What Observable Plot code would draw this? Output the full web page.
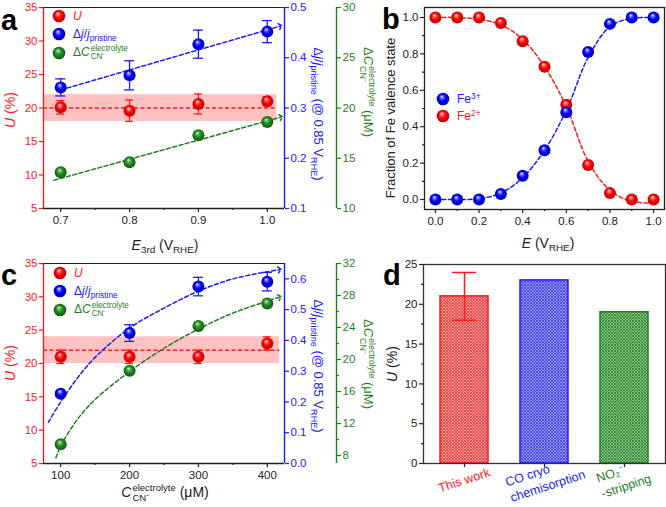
<!DOCTYPE html>
<html><head><meta charset="utf-8">
<script src="https://cdn.jsdelivr.net/npm/d3@7"></script>
<script src="https://cdn.jsdelivr.net/npm/@observablehq/plot@0.6"></script>
<style>
html,body{margin:0;padding:0;background:#fff;}
#root{position:relative;width:666px;height:507px;overflow:hidden;font-family:"Liberation Sans",Arial,Helvetica,sans-serif;}
.lbl{position:absolute;white-space:nowrap;line-height:1;transform-origin:center center;}
.lbl i{font-style:italic;}
.sub{font-size:0.7em;vertical-align:-0.3em;line-height:0;}
.sup{font-size:0.7em;vertical-align:0.45em;line-height:0;}
.ss{display:inline-block;vertical-align:middle;font-size:0.68em;line-height:1.02;text-align:left;margin-left:1px;}
.leg{position:absolute;display:flex;align-items:center;white-space:nowrap;font-size:12px;line-height:1;}
.leg svg{margin-right:7px;}
.letter{position:absolute;font-weight:bold;font-size:29px;line-height:1;color:#000;}
</style>
</head><body>
<svg width="0" height="0" style="position:absolute">
<defs>
<radialGradient id="ballR" cx="0.5" cy="0.5" r="0.55" fx="0.4" fy="0.3">
<stop offset="0" stop-color="#ffffff"/><stop offset="0.2" stop-color="#ff7070"/><stop offset="0.5" stop-color="#ff0000"/><stop offset="1" stop-color="#b30000"/></radialGradient>
<radialGradient id="ballB" cx="0.5" cy="0.5" r="0.55" fx="0.4" fy="0.3">
<stop offset="0" stop-color="#ffffff"/><stop offset="0.2" stop-color="#7070ff"/><stop offset="0.5" stop-color="#0000ff"/><stop offset="1" stop-color="#0000a8"/></radialGradient>
<radialGradient id="ballG" cx="0.5" cy="0.5" r="0.55" fx="0.4" fy="0.3">
<stop offset="0" stop-color="#ffffff"/><stop offset="0.2" stop-color="#6cb86c"/><stop offset="0.5" stop-color="#1f8a1f"/><stop offset="1" stop-color="#0b540b"/></radialGradient>
<pattern id="hatchR" width="3" height="3" patternUnits="userSpaceOnUse"><rect width="3" height="3" fill="#f59a9a"/><path d="M0,0L3,3M3,0L0,3" stroke="#e82a2a" stroke-width="0.7"/></pattern>
<pattern id="hatchB" width="3" height="3" patternUnits="userSpaceOnUse"><rect width="3" height="3" fill="#9a9af5"/><path d="M0,0L3,3M3,0L0,3" stroke="#2a2ae8" stroke-width="0.7"/></pattern>
<pattern id="hatchG" width="3" height="3" patternUnits="userSpaceOnUse"><rect width="3" height="3" fill="#8cc48c"/><path d="M0,0L3,3M3,0L0,3" stroke="#1a7a1a" stroke-width="0.7"/></pattern>
</defs>
</svg>
<div id="root"></div>
<script>
// ===================== DATA =====================
// Panel a
const aE = [0.7, 0.8, 0.9, 1.0];
const aU = [20.1, 19.6, 20.6, 21.0];
const aUerr = [1.0, 1.6, 1.5, 0.7];
const aJ = [0.341, 0.365, 0.427, 0.452];
const aJerr = [0.017, 0.029, 0.028, 0.022];
const aDC = [13.6, 14.6, 17.3, 18.6];
const aUmean = 20;
const aUband = [18, 22];
const aBandE = [0.675, 1.014];
const aJfitE = [0.7, 1.019];
const aJfit = [0.336, 0.463];
const aDCfitE = [0.69, 1.02];
const aDCfit = [12.8, 19.1];
const aTicksE = [0.7, 0.8, 0.9, 1.0];
const aTicksU = [5, 10, 15, 20, 25, 30, 35];
const aTicksJ = [0.1, 0.2, 0.3, 0.4, 0.5];
const aTicksDC = [10, 15, 20, 25, 30];

// Panel b
const bE = [0.0, 0.1, 0.2, 0.3, 0.4, 0.5, 0.6, 0.7, 0.8, 0.9, 1.0];
const bFe3 = [0.0, 0.0, 0.0, 0.03, 0.13, 0.27, 0.48, 0.81, 0.965, 1.0, 1.0];
const bFe2 = [1.0, 1.0, 1.0, 0.97, 0.87, 0.73, 0.52, 0.19, 0.035, 0.0, 0.0];
const bFitE = [0.0, 0.1, 0.2, 0.3, 0.4, 0.5, 0.6, 0.7, 0.8, 0.9, 1.0];
const bFit3 = [0.0, 0.0, 0.005, 0.035, 0.12, 0.27, 0.49, 0.78, 0.95, 0.995, 1.0];
const bFit2 = [1.0, 1.0, 0.99, 0.96, 0.88, 0.73, 0.51, 0.21, 0.05, -0.01, -0.02];
const bTicksE = [0.0, 0.2, 0.4, 0.6, 0.8, 1.0];
const bTicksY = [0.0, 0.2, 0.4, 0.6, 0.8, 1.0];

// Panel c
const cC = [100, 200, 300, 400];
const cU = [21, 21, 21, 23];
const cUerr = [1, 1, 1, 1];
const cJ = [0.227, 0.424, 0.575, 0.591];
const cJerr = [0.008, 0.027, 0.03, 0.03];
const cDC = [9.4, 18.6, 24.2, 27.0];
const cUmean = 22;
const cUband = [20, 24];
const cBandC = [75, 418];
const cJfitC = [82, 100, 125, 150, 200, 250, 300, 350, 418];
const cJfit = [0.134, 0.2, 0.28, 0.345, 0.44, 0.505, 0.56, 0.6, 0.63];
const cDCfitC = [93, 100, 125, 150, 200, 250, 300, 350, 418];
const cDCfit = [7.7, 9.2, 12.6, 15.0, 18.5, 21.4, 23.8, 25.8, 27.8];
const cTicksC = [100, 200, 300, 400];
const cTicksU = [5, 10, 15, 20, 25, 30, 35];
const cTicksJ = [0.0, 0.1, 0.2, 0.3, 0.4, 0.5, 0.6];
const cTicksDC = [8, 12, 16, 20, 24, 28, 32];

// Panel d
const dCats = ["This work", "CO cryo\nchemisorption", "NO\u2082\u207B\n-stripping"];
const dU = [21, 23, 19];
const dErr = [3, 0, 0];
const dTicksU = [0, 5, 10, 15, 20, 25];

// ===================== STYLE =====================
const W = 666, H = 507;
const FONT = "Liberation Sans, Arial, Helvetica, sans-serif";
const RED = "#ff1a1a", BLUE = "#1a1aff", GREEN = "#1f7f1f", INK = "#222";
const root = document.getElementById("root");

function layer(fr, opts) {
  const svg = Plot.plot({
    width: W, height: H,
    marginLeft: fr.l, marginRight: W - fr.r, marginTop: fr.t, marginBottom: H - fr.b,
    style: {background: "transparent", fontFamily: FONT, fontSize: "11.5px", color: INK, overflow: "visible"},
    ...opts
  });
  svg.style.position = "absolute"; svg.style.left = "0px"; svg.style.top = "0px";
  root.appendChild(svg);
  return svg;
}
const f1 = d3.format(".1f");
function yAx(anchor, ticks, color, fmt, minor) {
  const m = [Plot.axisY({anchor, ticks, tickSize: 4, tickPadding: 2, tickFormat: fmt, color, label: null, strokeWidth: 1.2})];
  if (minor) m.push(Plot.axisY({anchor, ticks: minor, tickSize: 2, tickFormat: () => "", color, label: null, strokeWidth: 1.2}));
  return m;
}
function xAx(ticks, fmt, minor) {
  const m = [Plot.axisX({anchor: "bottom", ticks, tickSize: 4, tickPadding: 3, tickFormat: fmt, label: null, strokeWidth: 1.2, color: INK})];
  if (minor) m.push(Plot.axisX({anchor: "bottom", ticks: minor, tickSize: 2, tickFormat: () => "", label: null, strokeWidth: 1.2, color: INK}));
  return m;
}
function errMarks(rows, color, cap) {
  return [
    Plot.ruleX(rows, {x: "x", y1: d => d.v - d.err, y2: d => d.v + d.err, stroke: color, strokeWidth: 1.3}),
    Plot.ruleY(rows, {y: d => d.v + d.err, x1: "x", x2: "x", insetLeft: -cap, insetRight: -cap, stroke: color, strokeWidth: 1.3}),
    Plot.ruleY(rows, {y: d => d.v - d.err, x1: "x", x2: "x", insetLeft: -cap, insetRight: -cap, stroke: color, strokeWidth: 1.3})
  ];
}
const zip = (xs, vs, es) => xs.map((x, i) => ({x, v: vs[i], err: es ? es[i] : 0}));
const dash = (xs, vs, color, arrow) => Plot.line(zip(xs, vs), {x: "x", y: "v", stroke: color, strokeWidth: 1.5, strokeDasharray: "4,2.5", curve: "catmull-rom", markerEnd: arrow ? "arrow" : undefined});
const balls = (rows, fill) => Plot.dot(rows, {x: "x", y: "v", r: 6, fill, stroke: "none"});
const minorOf = (t) => t.slice(0, -1).map((v, i) => (v + t[i + 1]) / 2);

// ===================== PANEL A =====================
const fa = {l: 43, r: 284, t: 7, b: 208};
const aX = {domain: [0.675, 1.025]};
layer(fa, {
  x: aX, y: {domain: [5, 35]},
  marks: [
    Plot.rect([0], {x1: () => aBandE[0], x2: () => aBandE[1], y1: () => aUband[0], y2: () => aUband[1], fill: RED, fillOpacity: 0.27}),
    Plot.ruleY([aUmean], {x1: aBandE[0], x2: aBandE[1], stroke: RED, strokeWidth: 1.5, strokeDasharray: "4,2.5"}),
    ...errMarks(zip(aE, aU, aUerr), RED, 4),
    balls(zip(aE, aU), "url(#ballR)"),
    ...xAx(aTicksE, f1, minorOf(aTicksE)),
    ...yAx("left", aTicksU, RED, d3.format("d")),
    Plot.ruleX([0.675], {stroke: RED, strokeWidth: 1.4}),
    Plot.ruleY([5], {stroke: INK, strokeWidth: 1.4}),
    Plot.ruleY([35], {stroke: INK, strokeWidth: 1.2})
  ]
});
layer(fa, {
  x: {...aX, axis: null}, y: {domain: [0.1, 0.5]},
  marks: [
    dash(aJfitE, aJfit, BLUE, true),
    ...errMarks(zip(aE, aJ, aJerr), BLUE, 5),
    balls(zip(aE, aJ), "url(#ballB)"),
    ...yAx("right", aTicksJ, BLUE, f1),
    Plot.ruleX([1.025], {stroke: BLUE, strokeWidth: 1.4})
  ]
});
layer(fa, {
  x: {...aX, axis: null}, y: {domain: [10, 30], axis: null},
  marks: [
    dash(aDCfitE, aDCfit, GREEN, true),
    balls(zip(aE, aDC), "url(#ballG)")
  ]
});
layer({l: 43, r: 336, t: 7, b: 208}, {
  x: {domain: [0, 1], axis: null}, y: {domain: [10, 30]},
  marks: [
    ...yAx("right", aTicksDC, GREEN, d3.format("d")),
    Plot.ruleX([1], {stroke: GREEN, strokeWidth: 1.4})
  ]
});

// ===================== PANEL B =====================
const fb = {l: 424, r: 664, t: 7, b: 209};
layer(fb, {
  x: {domain: [-0.05, 1.05]}, y: {domain: [-0.055, 1.055]},
  marks: [
    Plot.frame({stroke: INK, strokeWidth: 1.3}),
    dash(bFitE, bFit2, RED, false),
    dash(bFitE, bFit3, BLUE, false),
    balls(zip(bE, bFe2), "url(#ballR)"),
    balls(zip(bE, bFe3), "url(#ballB)"),
    ...xAx(bTicksE, f1, minorOf(bTicksE)),
    ...yAx("left", bTicksY, INK, f1, minorOf(bTicksY))
  ]
});

// ===================== PANEL C =====================
const fc = {l: 43, r: 284, t: 263, b: 463};
const cX = {domain: [75, 425]};
layer(fc, {
  x: cX, y: {domain: [5, 35]},
  marks: [
    Plot.rect([0], {x1: () => cBandC[0], x2: () => cBandC[1], y1: () => cUband[0], y2: () => cUband[1], fill: RED, fillOpacity: 0.27}),
    Plot.ruleY([cUmean], {x1: cBandC[0], x2: cBandC[1], stroke: RED, strokeWidth: 1.5, strokeDasharray: "4,2.5"}),
    ...errMarks(zip(cC, cU, cUerr), RED, 4),
    balls(zip(cC, cU), "url(#ballR)"),
    ...xAx(cTicksC, d3.format("d"), minorOf(cTicksC)),
    ...yAx("left", cTicksU, RED, d3.format("d")),
    Plot.ruleX([75], {stroke: RED, strokeWidth: 1.4}),
    Plot.ruleY([5], {stroke: INK, strokeWidth: 1.4}),
    Plot.ruleY([35], {stroke: INK, strokeWidth: 1.2})
  ]
});
layer(fc, {
  x: {...cX, axis: null}, y: {domain: [0, 0.65]},
  marks: [
    dash(cJfitC, cJfit, BLUE, true),
    ...errMarks(zip(cC, cJ, cJerr), BLUE, 5),
    balls(zip(cC, cJ), "url(#ballB)"),
    ...yAx("right", cTicksJ, BLUE, f1),
    Plot.ruleX([425], {stroke: BLUE, strokeWidth: 1.4})
  ]
});
layer(fc, {
  x: {...cX, axis: null}, y: {domain: [7, 32], axis: null},
  marks: [
    dash(cDCfitC, cDCfit, GREEN, true),
    balls(zip(cC, cDC), "url(#ballG)")
  ]
});
layer({l: 43, r: 336, t: 263, b: 463}, {
  x: {domain: [0, 1], axis: null}, y: {domain: [7, 32]},
  marks: [
    ...yAx("right", cTicksDC, GREEN, d3.format("d"), minorOf(cTicksDC)),
    Plot.ruleX([1], {stroke: GREEN, strokeWidth: 1.4})
  ]
});

// ===================== PANEL D =====================
const fd = {l: 423, r: 665, t: 264, b: 463};
const dCols = [RED, BLUE, GREEN];
const dFills = ["url(#hatchR)", "url(#hatchB)", "url(#hatchG)"];
const dRows = dCats.map((c, i) => ({cat: c, v: dU[i], err: dErr[i], col: dCols[i], fill: dFills[i]}));
const dOff = [[-28, 18], [-41, 12], [-30, 8]];
const dErrRows = dRows.filter(d => d.err > 0);
layer(fd, {
  x: {domain: dCats, paddingInner: 0.4, paddingOuter: 0.21}, y: {domain: [0, 25]},
  color: {type: "identity"},
  marks: [
    Plot.barY(dRows, {x: "cat", y: "v", fill: "fill", stroke: "col", strokeWidth: 1.5, insetLeft: 0, insetRight: 0}),
    Plot.ruleX(dErrRows, {x: "cat", y1: d => d.v - d.err, y2: d => d.v + d.err, stroke: "col", strokeWidth: 1.5}),
    Plot.ruleY(dErrRows, {y: d => d.v + d.err, x1: "cat", x2: "cat", insetLeft: 12, insetRight: 12, stroke: "col", strokeWidth: 1.5}),
    Plot.ruleY(dErrRows, {y: d => d.v - d.err, x1: "cat", x2: "cat", insetLeft: 12, insetRight: 12, stroke: "col", strokeWidth: 1.5}),
    Plot.frame({stroke: "#333", strokeWidth: 1.3}),
    Plot.axisX({tickSize: 4, tickFormat: () => "", label: null, strokeWidth: 1.2}),
    ...yAx("left", dTicksU, INK, d3.format("d"), minorOf(dTicksU)),
    ...dRows.map((d, i) => Plot.text([d], {x: "cat", text: "cat", frameAnchor: "bottom", textAnchor: "start", lineAnchor: "top", rotate: -18, fill: "col", dx: dOff[i][0], dy: dOff[i][1], fontSize: 12.5, lineHeight: 1.3}))
  ]
});

// ===================== HTML TEXT =====================
function label(html, cx, cy, rot, style) {
  const d = document.createElement("div");
  d.className = "lbl"; d.innerHTML = html;
  d.style.left = cx + "px"; d.style.top = cy + "px";
  d.style.transform = `translate(-50%,-50%) rotate(${rot}deg)`;
  Object.assign(d.style, style || {});
  root.appendChild(d);
}
const DC = '\u0394<i>C</i><span class="ss">electrolyte<br>CN\u207B</span>';
const DJ = '\u0394<i>j</i>/<i>j</i><span class="sub">pristine</span>';
// panel letters
[["a", 1, 6], ["b", 382, 5], ["c", 1, 261], ["d", 383, 261]].forEach(([t, x, y]) => {
  const d = document.createElement("div"); d.className = "letter"; d.textContent = t;
  d.style.left = x + "px"; d.style.top = y + "px"; root.appendChild(d);
});
// panel a labels
label('<i>U</i> (%)', 10, 110, -90, {color: RED, fontSize: "14px"});
label(DJ + ' (@ 0.85 V<span class="sub">RHE</span>)', 318, 114, 90, {color: BLUE, fontSize: "13px"});
label(DC + ' (\u03BCM)', 367, 92, 90, {color: GREEN, fontSize: "13px"});
label('<i>E</i><span class="sub">3rd</span> (V<span class="sub">RHE</span>)', 165, 245, 0, {color: INK, fontSize: "14px"});
// panel b labels
label('Fraction of Fe valence state', 390, 118, -90, {color: INK, fontSize: "13px"});
label('<i>E</i> (V<span class="sub">RHE</span>)', 548, 243, 0, {color: INK, fontSize: "14px"});
// panel c labels
label('<i>U</i> (%)', 10, 363, -90, {color: RED, fontSize: "14px"});
label(DJ + ' (@ 0.85 V<span class="sub">RHE</span>)', 318, 366, 90, {color: BLUE, fontSize: "13px"});
label(DC + ' (\u03BCM)', 367, 364, 90, {color: GREEN, fontSize: "13px"});
label('<i>C</i><span class="ss">electrolyte<br>CN\u207B</span> (\u03BCM)', 165, 493, 0, {color: INK, fontSize: "14px"});
// panel d label
label('<i>U</i> (%)', 392, 364, -90, {color: INK, fontSize: "14px"});

// legends
function legend(items, x, y0, dy) {
  items.forEach(([grad, html, color], i) => {
    const d = document.createElement("div"); d.className = "leg";
    d.style.left = x + "px"; d.style.top = (y0 + i * dy - 7) + "px"; d.style.color = color;
    d.innerHTML = `<svg width="14" height="14"><circle cx="7" cy="7" r="6.3" fill="url(#${grad})"/></svg><span>${html}</span>`;
    root.appendChild(d);
  });
}
const legItems = [["ballR", "<i>U</i>", RED], ["ballB", DJ, BLUE], ["ballG", DC, GREEN]];
legend(legItems, 52, 16, 18);
legend(legItems, 53, 273, 18);
legend([["ballB", 'Fe<span class="sup">3+</span>', BLUE], ["ballR", 'Fe<span class="sup">2+</span>', RED]], 436, 99, 17);
</script>
</body></html>
